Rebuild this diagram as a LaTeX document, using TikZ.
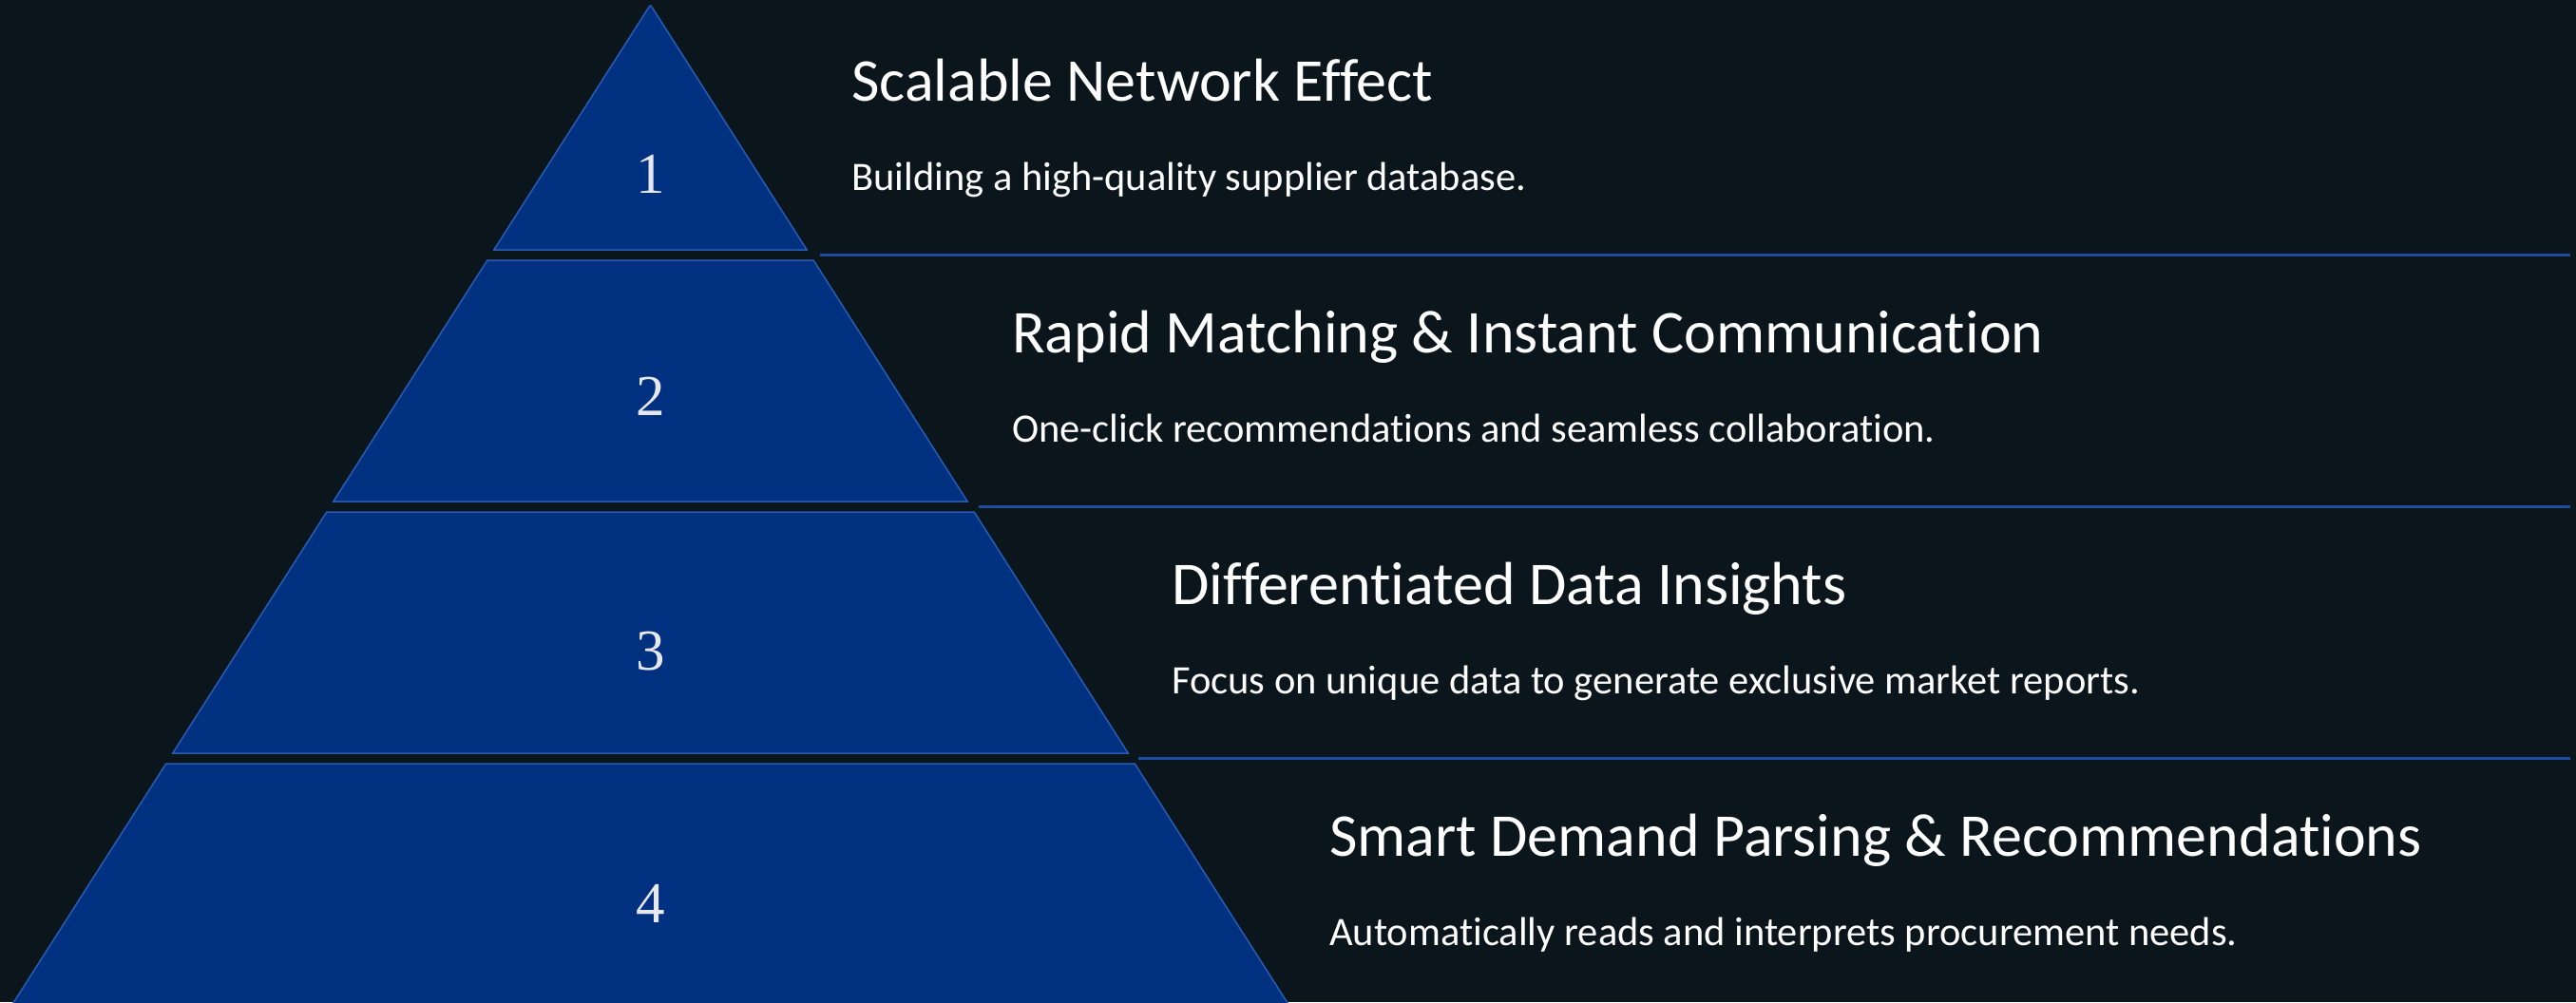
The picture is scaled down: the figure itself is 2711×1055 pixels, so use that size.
\documentclass[tikz,border=0pt]{standalone}
\usepackage{fontspec}
\setmainfont{Carlito}[Ligatures={NoCommon}]
\newfontfamily\numfont{Liberation Serif}
\usetikzlibrary{positioning}
\definecolor{bgdark}{RGB}{10,21,28}
\definecolor{pyrblue}{RGB}{0,49,128}
\definecolor{pyredge}{RGB}{40,92,180}
\definecolor{sepblue}{RGB}{30,76,158}
\definecolor{numgray}{RGB}{230,232,238}

\tikzset{
  layer/.style={fill=pyrblue, draw=pyredge, line width=1.5pt, line join=miter},
  tiernum/.style={font=\numfont\fontsize{61}{61}\selectfont, text=numgray, inner sep=0pt},
  tiertitle/.style={anchor=base west, inner sep=0pt, text=white, font=\fontsize{64}{70}\selectfont},
  tierdesc/.style={anchor=base west, inner sep=0pt, text=white, font=\fontsize{42.5}{48}\selectfont},
  sepline/.style={draw=sepblue, line width=3pt}
}

\begin{document}
\begin{tikzpicture}[x=1pt, y=-1pt]
\useasboundingbox (0,0) rectangle (2711,1055);
\fill[bgdark] (0,0) rectangle (2711,1055);
\clip (0,0) rectangle (2711,1055);

% Pyramid layers
\foreach \n/\yt/\yb/\ny in {1/6/263/183, 2/274/528/417, 3/539/793/686, 4/804/1062/951} {
    \pgfmathsetmacro\wt{0.638*(\yt-5)}
    \pgfmathsetmacro\wb{0.638*(\yb-5)}
    \draw[layer] ({684.5-\wt},\yt) -- ({684.5+\wt},\yt) -- ({684.5+\wb},\yb) -- ({684.5-\wb},\yb) -- cycle;
    \node[tiernum] (n\n) at (684.5,\ny) {\n};
}

% Separators
\foreach \s/\x/\y in {1/863/268.5, 2/1030/533, 3/1198/798} {
    \coordinate (s\s a) at (\x,\y);
    \coordinate (s\s b) at (2705,\y);
    \draw[sepline] (s\s a) -- (s\s b);
}

% Tier texts
\node[tiertitle] (t1) at (896,106) {Scalable Network Effect};
\node[tierdesc] (d1) at (896,200) {Building a high-quality supplier database.};
\node[tiertitle] (t2) at (1065,371) {Rapid Matching \& Instant Communication};
\node[tierdesc] (d2) at (1065,465) {One-click recommendations and seamless collaboration.};
\node[tiertitle] (t3) at (1233,636) {Differentiated Data Insights};
\node[tierdesc] (d3) at (1233,730) {Focus on unique data to generate exclusive market reports.};
\node[tiertitle] (t4) at (1399,901) {Smart Demand Parsing \& Recommendations};
\node[tierdesc] (d4) at (1399,995) {Automatically reads and interprets procurement needs.};
\end{tikzpicture}
\end{document}
